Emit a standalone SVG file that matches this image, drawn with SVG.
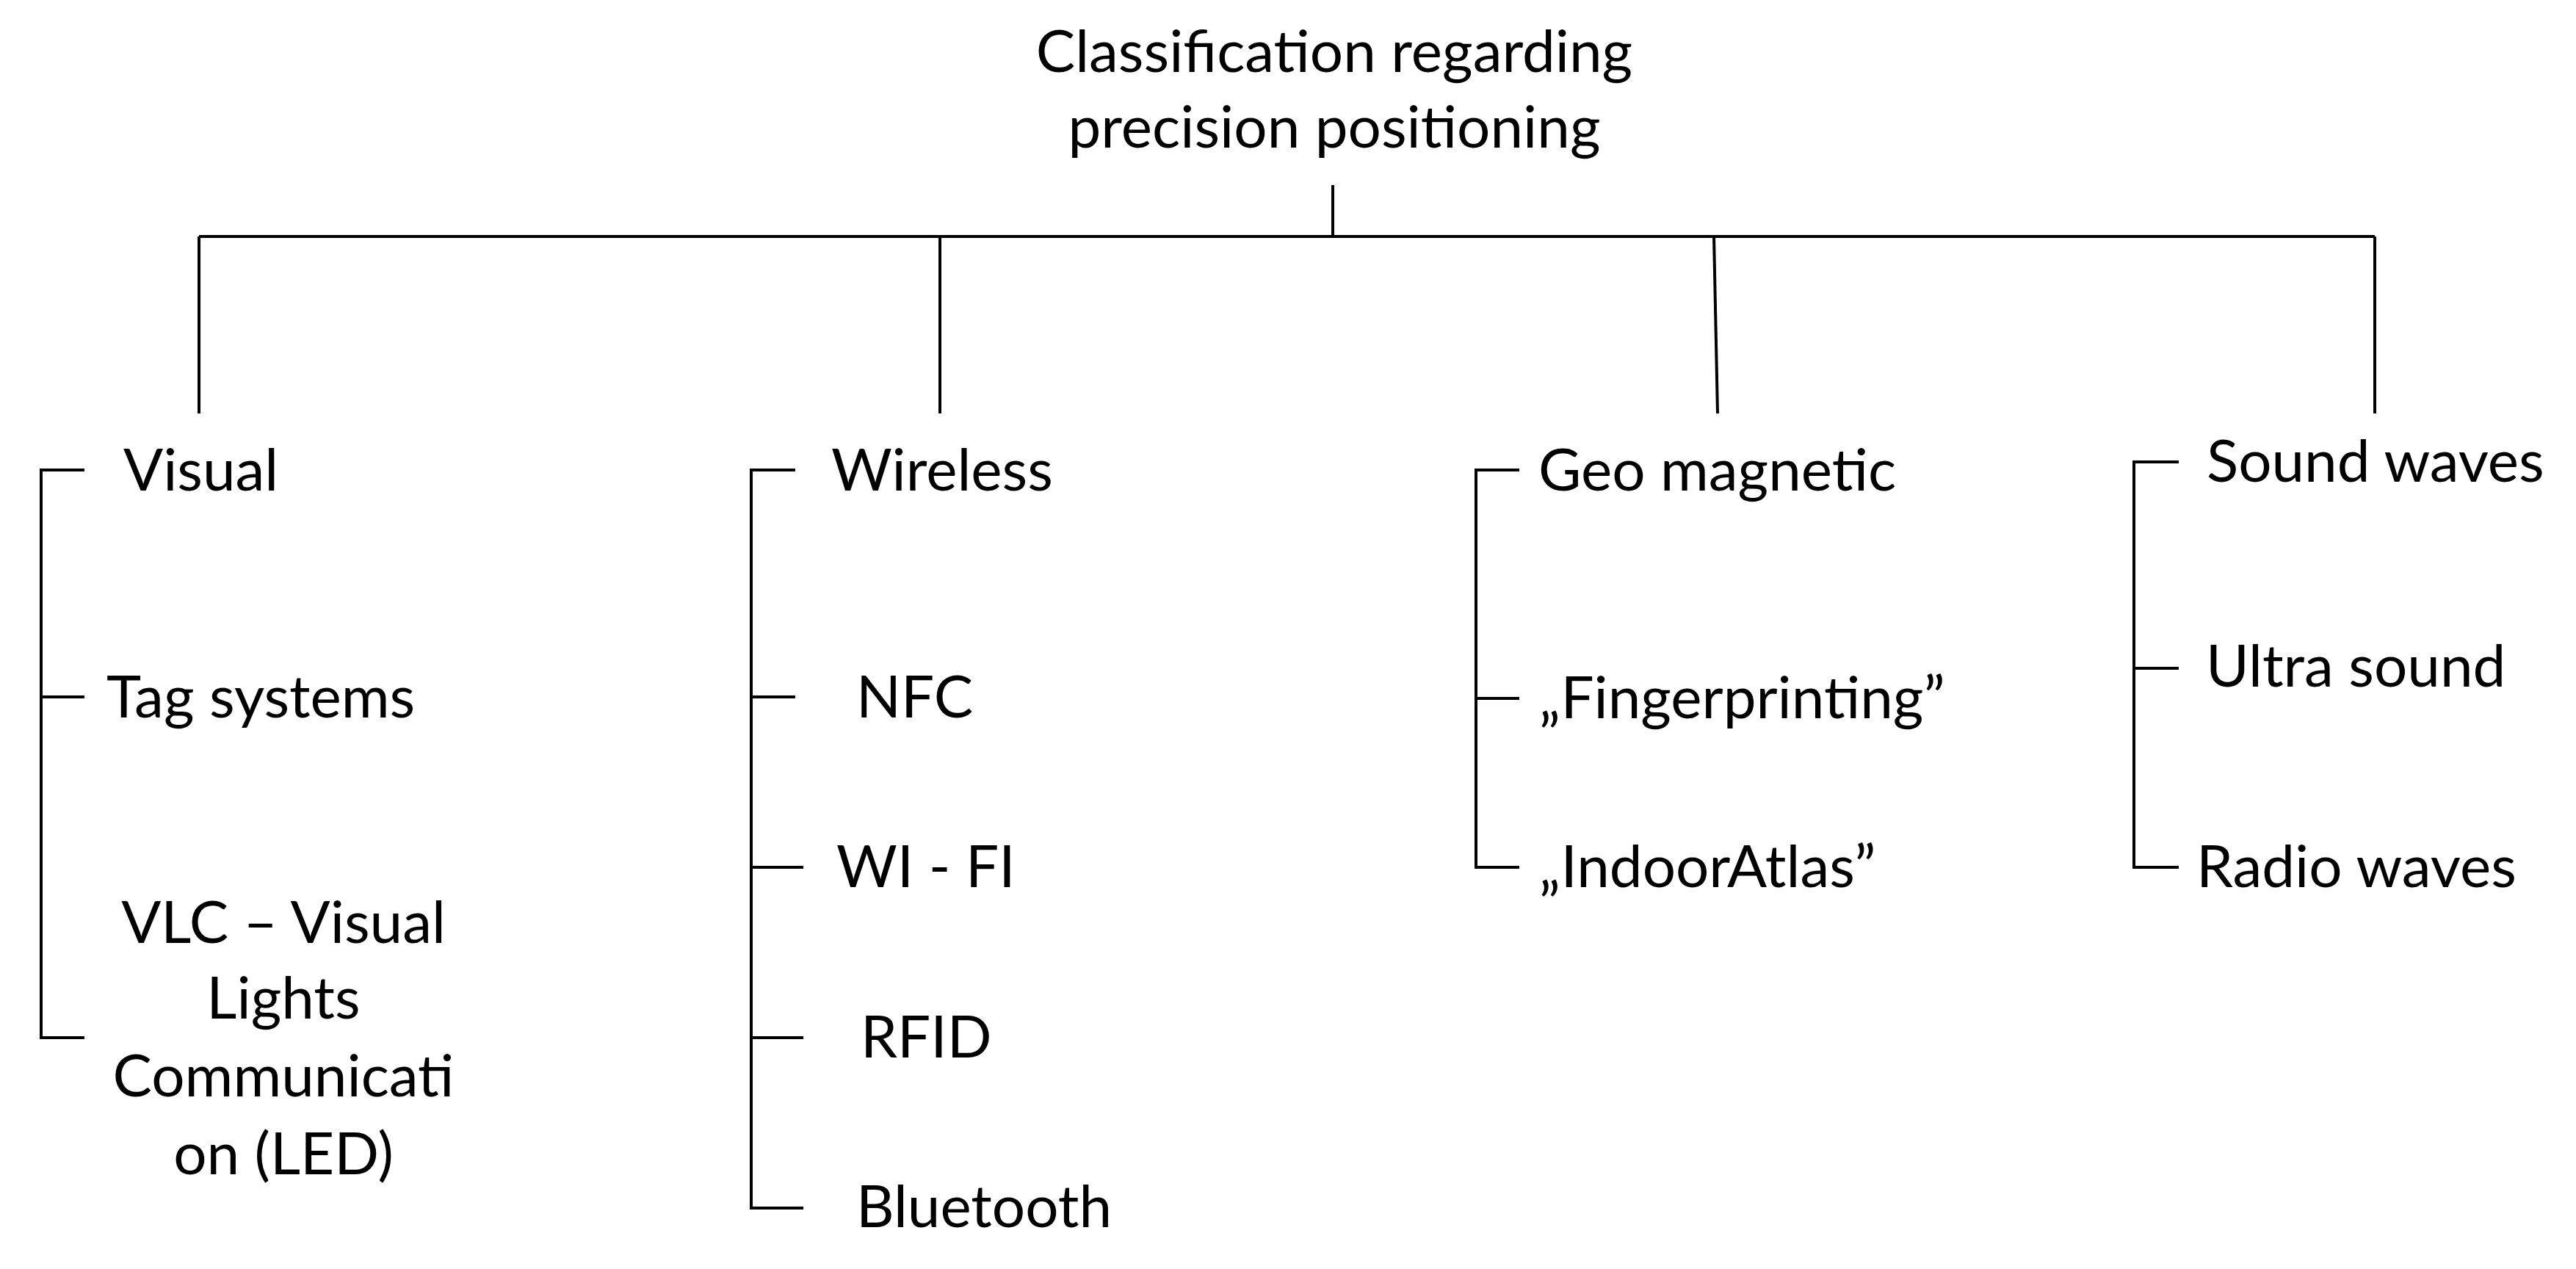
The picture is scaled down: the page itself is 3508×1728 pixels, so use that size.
<svg xmlns="http://www.w3.org/2000/svg" width="3508" height="1728" viewBox="0 0 3508 1728">
<style>
text{font-family:Lato,"Liberation Sans",sans-serif;font-size:80px;fill:#000}
.c{text-anchor:middle}
line,polyline{stroke:#000;stroke-width:4;fill:none}
</style>
<rect width="3508" height="1728" fill="#fff"/>
<g id="connectors">
<line x1="1815" y1="252" x2="1815" y2="322"/>
<line x1="271" y1="322" x2="3234" y2="322"/>
<line x1="271" y1="322" x2="271" y2="563"/>
<line x1="1280" y1="322" x2="1280" y2="563"/>
<line x1="2334" y1="322" x2="2339" y2="563"/>
<line x1="3234" y1="322" x2="3234" y2="563"/>
<polyline points="115,640 56,640 56,1413 115,1413"/>
<line x1="56" y1="949" x2="115" y2="949"/>
<polyline points="1083,640 1023,640 1023,1645 1094,1645"/>
<line x1="1023" y1="949" x2="1083" y2="949"/>
<line x1="1023" y1="1181" x2="1094" y2="1181"/>
<line x1="1023" y1="1413" x2="1094" y2="1413"/>
<polyline points="2069,640 2010,640 2010,1181 2069,1181"/>
<line x1="2010" y1="951" x2="2069" y2="951"/>
<polyline points="2967,629 2906,629 2906,1181 2967,1181"/>
<line x1="2906" y1="910" x2="2967" y2="910"/>
</g>
<g id="root"><text class="c" x="1817" y="98">Classification regarding</text><text class="c" x="1817" y="201">precision positioning</text></g>
<g id="visual"><text x="168" y="668">Visual</text></g>
<g id="tag"><text x="145" y="977">Tag systems</text></g>
<g id="vlc"><text class="c" x="386" y="1284">VLC – Visual</text><text class="c" x="386" y="1387">Lights</text><text class="c" x="386" y="1493">Communicati</text><text class="c" x="386" y="1599">on (LED)</text></g>
<g id="wireless"><text x="1132" y="668">Wireless</text></g>
<g id="nfc"><text x="1166" y="977">NFC</text></g>
<g id="wifi"><text x="1139" y="1208">WI - FI</text></g>
<g id="rfid"><text x="1172" y="1440">RFID</text></g>
<g id="bluetooth"><text x="1166" y="1671">Bluetooth</text></g>
<g id="geo"><text x="2095" y="668">Geo magnetic</text></g>
<g id="finger"><text x="2096" y="978">„Fingerprinting”</text></g>
<g id="indoor"><text x="2096" y="1208">„IndoorAtlas”</text></g>
<g id="sound"><text x="3005" y="656">Sound waves</text></g>
<g id="ultra"><text x="3004" y="935">Ultra sound</text></g>
<g id="radio"><text x="2991" y="1208">Radio waves</text></g>
</svg>
